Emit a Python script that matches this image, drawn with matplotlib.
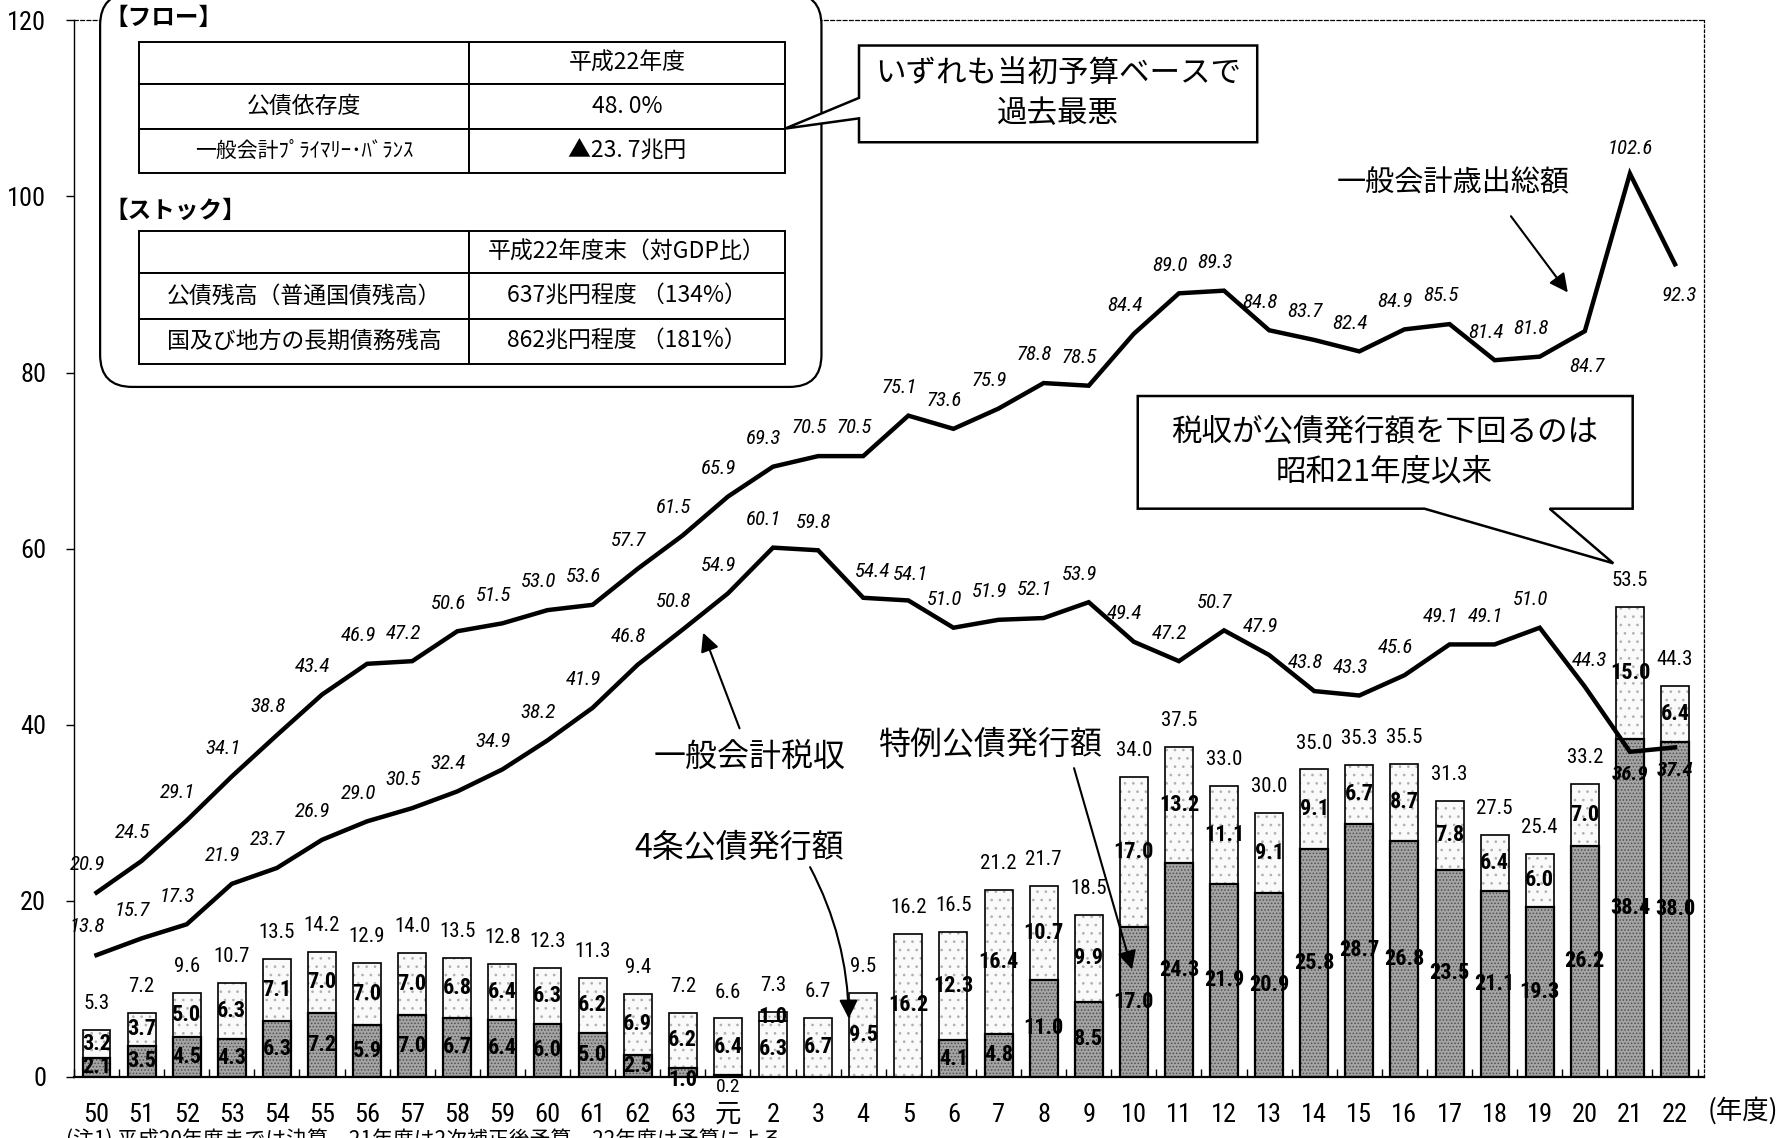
import matplotlib

matplotlib.use("Agg")
import matplotlib.pyplot as plt
import numpy as np
from matplotlib import font_manager
from matplotlib.patches import FancyBboxPatch, Polygon, Rectangle

# 年度 (昭和50 - 平成22)
years = ["50", "51", "52", "53", "54", "55", "56", "57", "58", "59", "60", "61", "62", "63",
         "元", "2", "3", "4", "5", "6", "7", "8", "9", "10", "11", "12", "13", "14", "15",
         "16", "17", "18", "19", "20", "21", "22"]

# 一般会計歳出総額 (兆円)
expenditure = [20.9, 24.5, 29.1, 34.1, 38.8, 43.4, 46.9, 47.2, 50.6, 51.5, 53.0, 53.6, 57.7, 61.5,
               65.9, 69.3, 70.5, 70.5, 75.1, 73.6, 75.9, 78.8, 78.5, 84.4, 89.0, 89.3, 84.8, 83.7,
               82.4, 84.9, 85.5, 81.4, 81.8, 84.7, 102.6, 92.3]

# 一般会計税収 (兆円)
tax_revenue = [13.8, 15.7, 17.3, 21.9, 23.7, 26.9, 29.0, 30.5, 32.4, 34.9, 38.2, 41.9, 46.8, 50.8,
               54.9, 60.1, 59.8, 54.4, 54.1, 51.0, 51.9, 52.1, 53.9, 49.4, 47.2, 50.7, 47.9, 43.8,
               43.3, 45.6, 49.1, 49.1, 51.0, 44.3, 36.9, 37.4]

# 特例公債発行額 (兆円)
special_bonds = [2.1, 3.5, 4.5, 4.3, 6.3, 7.2, 5.9, 7.0, 6.7, 6.4, 6.0, 5.0, 2.5, 1.0,
                 0.2, 0.0, 0.0, 0.0, 0.0, 4.1, 4.8, 11.0, 8.5, 17.0, 24.3, 21.9, 20.9, 25.8,
                 28.7, 26.8, 23.5, 21.1, 19.3, 26.2, 38.4, 38.0]

# 4条公債発行額 (兆円)
construction_bonds = [3.2, 3.7, 5.0, 6.3, 7.1, 7.0, 7.0, 7.0, 6.8, 6.4, 6.3, 6.2, 6.9, 6.2,
                      6.4, 6.3, 6.7, 9.5, 16.2, 12.3, 16.4, 10.7, 9.9, 17.0, 13.2, 11.1, 9.1, 9.1,
                      6.7, 8.7, 7.8, 6.4, 6.0, 7.0, 15.0, 6.4]

# 臨時特別公債 (平成2年度)
temporary_bonds = [0, 0, 0, 0, 0, 0, 0, 0, 0, 0, 0, 0, 0, 0,
                   0, 1.0, 0, 0, 0, 0, 0, 0, 0, 0, 0, 0, 0, 0,
                   0, 0, 0, 0, 0, 0, 0, 0]

# 公債発行額 合計
bond_totals = [5.3, 7.2, 9.6, 10.7, 13.5, 14.2, 12.9, 14.0, 13.5, 12.8, 12.3, 11.3, 9.4, 7.2,
               6.6, 7.3, 6.7, 9.5, 16.2, 16.5, 21.2, 21.7, 18.5, 34.0, 37.5, 33.0, 30.0, 35.0,
               35.3, 35.5, 31.3, 27.5, 25.4, 33.2, 53.5, 44.3]

y_ticks = [0, 20, 40, 60, 80, 100, 120]


def pick_font(names: list[str]) -> str:
    for n in names:
        try:
            font_manager.findfont(font_manager.FontProperties(family=n), fallback_to_default=False)
            return n
        except ValueError:
            continue
    return "DejaVu Sans"


NUM = pick_font(["Liberation Sans Narrow", "Arial Narrow", "Roboto Condensed", "Liberation Sans"])
JP = "Noto Sans CJK JP"
plt.rcParams["font.family"] = [NUM, JP, "DejaVu Sans"]
plt.rcParams["hatch.linewidth"] = 0.7


def F(x: float, y: float) -> tuple[float, float]:
    # reference pixel (1568x1000 view) -> figure fraction
    return x / 1568, 1 - y / 1000


fig = plt.figure(figsize=(17.84, 11.38), dpi=100)
ax = fig.add_axes([65 / 1568, 0.054, (1498 - 65) / 1568, 0.928])

x = np.arange(len(years))
sp = np.array(special_bonds)
cb = np.array(construction_bonds)
tb = np.array(temporary_bonds)
w = 0.62


def stipple(xs, h, b, face, dots, hatch, lw=1.2):
    m = h > 0
    ax.bar(xs[m], h[m], w, bottom=b[m], color=face, edgecolor=dots, hatch=hatch, linewidth=0, zorder=2)
    ax.bar(xs[m], h[m], w, bottom=b[m], fill=False, edgecolor="black", linewidth=lw, zorder=2.2)


zero = np.zeros(len(x))
stipple(x, cb, sp, "#fafafa", "#b0b0b0", "..")
stipple(x, tb, sp + cb, "#f4f4f4", "#a8a8a8", "...")
stipple(x, sp, zero, "#a4a4a4", "#505050", ".....", lw=1.6)

# segment labels
lab_kw = dict(ha="center", va="center", fontsize=16, fontweight="bold", zorder=4, family=[NUM])
for i in range(len(x)):
    if sp[i] >= 1.5:
        ax.text(x[i], sp[i] / 2, f"{sp[i]:.1f}", **lab_kw)
    elif sp[i] >= 1.0:
        ax.text(x[i], -0.4, f"{sp[i]:.1f}", **lab_kw)
    elif sp[i] > 0:
        ax.text(x[i], -1.2, f"{sp[i]:.1f}", ha="center", va="center", fontsize=14, zorder=4)
    ax.text(x[i], sp[i] + cb[i] / 2, f"{cb[i]:.1f}", **lab_kw)
    if tb[i] > 0:
        ax.text(x[i], sp[i] + cb[i] + tb[i] / 2, f"{tb[i]:.1f}", **lab_kw)
    top = sp[i] + cb[i] + tb[i]
    ax.text(x[i], top + 3.0, f"{bond_totals[i]:.1f}", ha="center", va="center", fontsize=15, zorder=4)

# lines
ax.plot(x, expenditure, color="black", lw=3.2, zorder=3, solid_joinstyle="miter")
ax.plot(x, tax_revenue, color="black", lw=3.2, zorder=3, solid_joinstyle="miter")

exp_off = {33: (0.05, -4.0), 35: (0.1, -3.6), 34: (0.0, 2.8)}
for i, v in enumerate(expenditure):
    dx, dy = exp_off.get(i, (-0.2, 3.2))
    ax.text(x[i] + dx, v + dy, f"{v:.1f}", ha="center", va="center", fontsize=15, style="italic", zorder=4)

tax_off = {16: (-0.1, 3.2), 17: (0.2, 3.0), 18: (0.05, 3.0), 33: (0.1, 3.0),
           34: (0.0, -2.6), 35: (0.0, -2.6)}
for i, v in enumerate(tax_revenue):
    dx, dy = tax_off.get(i, (-0.2, 3.2))
    bold = "bold" if i >= 34 else "normal"
    ax.text(x[i] + dx, v + dy, f"{v:.1f}", ha="center", va="center", fontsize=15, style="italic",
            fontweight=bold, zorder=4)

ax.set_xlim(-0.45, 35.65)
ax.set_ylim(0, 120)
ax.set_yticks(y_ticks)
ax.set_yticklabels([str(t) for t in y_ticks], fontsize=19)
ax.set_xticks(x)
ax.set_xticklabels(years, fontsize=19)
ax.set_xticks(np.arange(-0.5, 35.6, 1.0), minor=True)
ax.tick_params(axis="x", which="major", length=0, pad=19)
ax.tick_params(axis="x", which="minor", direction="in", length=6, width=1)
ax.tick_params(axis="y", direction="out", length=6, width=1, pad=14)
ax.spines["left"].set_linewidth(1.0)
ax.spines["bottom"].set_linewidth(1.6)
ax.spines["top"].set_linestyle((0, (3, 2)))
ax.spines["top"].set_linewidth(0.9)
ax.spines["right"].set_linestyle((0, (2, 2)))
ax.spines["right"].set_linewidth(0.9)

fig.text(*F(1532, 976), "(年度)", ha="center", va="center", fontsize=19, family=[JP])
fig.text(*F(58, 1002), "(注1) 平成20年度までは決算、21年度は2次補正後予算、22年度は予算による。",
         ha="left", va="center", fontsize=15, family=[JP])

# ---- table panel ----
x0, y0 = F(88, 340)
x1, y1 = F(722, -6)
fig.patches.append(FancyBboxPatch((x0, y0), x1 - x0, y1 - y0, boxstyle="round,pad=0,rounding_size=0.018",
                                  transform=fig.transFigure, facecolor="white", edgecolor="black", lw=1.6,
                                  mutation_aspect=1784 / 1138, zorder=5))


def table(rows_y, cells):
    left, mid, right = 122, 412, 690
    for r in range(3):
        for (a, b) in [(left, mid), (mid, right)]:
            xa, ya = F(a, rows_y[r + 1])
            xb, yb = F(b, rows_y[r])
            fig.patches.append(Rectangle((xa, ya), xb - xa, yb - ya, transform=fig.transFigure,
                                         facecolor="white", edgecolor="black", lw=1.4, zorder=6))
    for r, (c1, c2, fs) in enumerate(cells):
        yc = (rows_y[r] + rows_y[r + 1]) / 2
        if c1:
            fig.text(*F(267, yc), c1, ha="center", va="center", fontsize=fs, family=[JP], zorder=7)
        fig.text(*F(551, yc), c2, ha="center", va="center", fontsize=16.5, family=[JP], zorder=7)


fig.text(*F(92, 16), "【フロー】", ha="left", va="center", fontsize=17, fontweight="bold", family=[JP], zorder=7)
table([37, 74, 113, 152], [("", "平成22年度", 16.5), ("公債依存度", "48. 0%", 16.5),
                           ("一般会計ﾌﾟﾗｲﾏﾘｰ･ﾊﾞﾗﾝｽ", "▲23. 7兆円", 15)])
fig.text(*F(92, 185), "【ストック】", ha="left", va="center", fontsize=17, fontweight="bold", family=[JP], zorder=7)
table([203, 240, 280, 320], [("", "平成22年度末（対GDP比）", 16.5),
                             ("公債残高（普通国債残高）", "637兆円程度 （134%）", 16.5),
                             ("国及び地方の長期債務残高", "862兆円程度 （181%）", 16.5)])


# ---- callouts ----
def callout(pts, lines, center, fs=22):
    fig.patches.append(Polygon([F(*p) for p in pts], closed=True, transform=fig.transFigure,
                               facecolor="white", edgecolor="black", lw=1.8, zorder=5))
    fig.text(*F(*center), "\n".join(lines), ha="center", va="center", fontsize=fs, family=[JP],
             linespacing=1.35, zorder=7)


callout([(755, 40), (1105, 40), (1105, 125), (755, 125), (755, 104), (690, 113), (755, 86)],
        ["いずれも当初予算ベースで", "過去最悪"], (930, 82))
callout([(1000, 348), (1435, 348), (1435, 447), (1362, 447), (1418, 495), (1252, 447), (1000, 447)],
        ["税収が公債発行額を下回るのは", "昭和21年度以来"], (1217, 397))

# ---- series annotations ----
arrow = dict(arrowstyle="-|>", color="black", lw=1.5, mutation_scale=28, shrinkA=0, shrinkB=0)
ann = [
    ("一般会計歳出総額", (1277, 161), 21, (1328, 190), (1378, 257), "arc3"),
    ("一般会計税収", (659, 665), 23, (650, 640), (618, 556), "arc3"),
    ("特例公債発行額", (870, 654), 23, (944, 675), (995, 852), "arc3"),
    ("4条公債発行額", (650, 745), 23, (712, 762), (746, 895), "arc3,rad=-0.12"),
]
for label, tpos, fs, start, head, cs in ann:
    fig.text(*F(*tpos), label, ha="center", va="center", fontsize=fs, family=[JP], zorder=7)
    ax.annotate("", xy=F(*head), xycoords="figure fraction", xytext=F(*start), textcoords="figure fraction",
                arrowprops=dict(arrow, connectionstyle=cs), zorder=6)

fig.savefig("out.png", dpi=100)
